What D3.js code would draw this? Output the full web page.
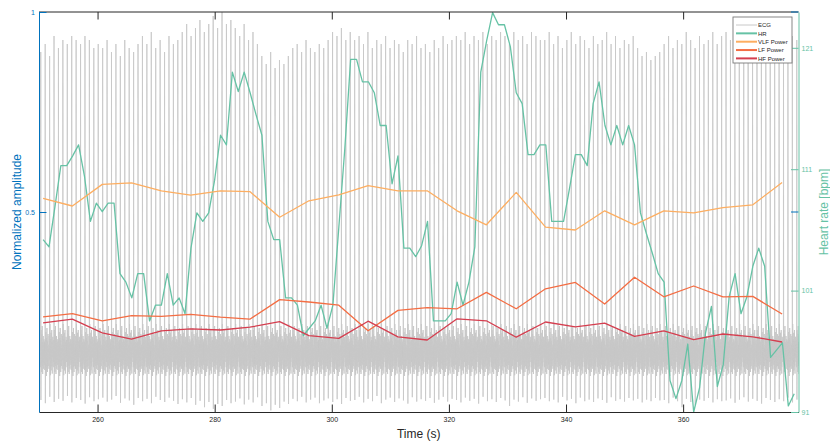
<!DOCTYPE html>
<html>
<head>
<meta charset="utf-8">
<script src="https://cdn.jsdelivr.net/npm/d3@7"></script>
<style>
  body { margin: 0; background: #fff; }
  svg { display: block; }
  text { font-family: "Liberation Sans", Arial, Helvetica, sans-serif; }
</style>
</head>
<body>
<svg id="chart" width="830" height="442"></svg>
<script>
// ---------- data ----------
// Heart rate (bpm), one sample per ~1.01 s starting at 250.7 s
const hrStart = 250.7;
const hrStep = 1.01;
const hrBpm = [
  105.2, 104.6, 107.9, 111.3, 111.3, 112.1, 113.0, 110.4, 106.7, 108.2,
  107.5, 108.2, 108.2, 102.4, 101.7, 100.4, 102.4, 102.4, 98.5, 99.8,
  99.8, 102.4, 99.8, 100.4, 99.1, 104.5, 107.4, 106.7, 107.4, 110.1,
  113.8, 113.0, 119.0, 117.4, 119.0, 117.3, 115.5, 113.8, 106.7, 105.2,
  105.2, 100.4, 100.4, 99.8, 97.3, 97.9, 98.5, 99.8, 97.9, 99.8,
  106.2, 112.6, 120.05, 120.05, 118.2, 118.2, 117.3, 114.6, 114.6, 109.8,
  112.1, 104.5, 104.5, 103.8, 104.7, 106.7, 98.5, 98.5, 98.5, 99.1,
  101.7, 99.8, 101.7, 104.6, 119.0, 121.6, 123.9, 122.9, 122.9, 121.1,
  117.3, 116.4, 112.2, 112.2, 113.0, 113.0, 106.7, 106.7, 106.7, 109.4,
  112.2, 112.2, 111.3, 116.4, 118.2, 114.6, 113.0, 114.6, 113.0, 114.6,
  113.0, 107.4, 105.7, 104.1, 102.4, 101.7, 93.6, 92.1, 93.6, 96.6,
  91.0, 93.0, 97.5, 99.7, 93.1, 94.9, 100.5, 102.4, 99.1, 100.5,
  103.0, 104.5, 103.0, 95.5, 96.1, 96.7, 91.5, 92.5
];

// Band powers (normalized), one value per ~5 s window
const powerTime = [
  250.7, 255.7, 260.8, 265.8, 270.9, 275.9, 281.0, 286.0, 291.1, 296.1,
  301.2, 306.2, 311.3, 316.3, 321.4, 326.4, 331.5, 336.5, 341.6, 346.6,
  351.7, 356.7, 361.8, 366.8, 371.9, 376.9
];
const vlfPower = [
  0.534, 0.515, 0.569, 0.573, 0.553, 0.542, 0.553, 0.551, 0.487, 0.528,
  0.543, 0.566, 0.553, 0.553, 0.503, 0.468, 0.549, 0.462, 0.455, 0.503,
  0.468, 0.503, 0.498, 0.511, 0.518, 0.574
];
const lfPower = [
  0.238, 0.246, 0.228, 0.241, 0.239, 0.244, 0.237, 0.232, 0.281, 0.275,
  0.267, 0.203, 0.254, 0.261, 0.258, 0.299, 0.258, 0.308, 0.324, 0.270,
  0.337, 0.288, 0.315, 0.288, 0.289, 0.245
];
const hfPower = [
  0.223, 0.232, 0.198, 0.182, 0.203, 0.208, 0.205, 0.212, 0.226, 0.191,
  0.184, 0.227, 0.188, 0.180, 0.233, 0.228, 0.187, 0.225, 0.213, 0.222,
  0.189, 0.203, 0.181, 0.195, 0.188, 0.175
];

// ECG: per-beat R-peak and S-trough levels (normalized), beats every ~0.755 s from 250.3 s
const ecgFirstBeat = 250.3;
const ecgBeatStep = 0.755;
const ecgPeak = [
  0.90, 0.92, 0.89, 0.94, 0.91,
  0.93, 0.92, 0.94, 0.93, 0.92, 0.94, 0.93, 0.91, 0.92,
  0.91, 0.93, 0.90, 0.92, 0.89, 0.93, 0.91, 0.90, 0.92,
  0.94, 0.92, 0.95, 0.91, 0.93, 0.90, 0.94, 0.92, 0.93,
  0.95, 0.97, 0.94, 0.96, 0.98, 0.95, 0.97, 0.99, 0.96, 1.00, 0.97, 0.98,
  0.96, 0.94, 0.97, 0.93, 0.95, 0.92,
  0.89, 0.87, 0.90, 0.86, 0.88, 0.87, 0.89,
  0.91, 0.92, 0.90, 0.93, 0.91, 0.90, 0.92, 0.91, 0.93,
  0.95, 0.94, 0.96, 0.93, 0.95,
  0.93, 0.94, 0.92, 0.95, 0.91, 0.93, 0.92, 0.94, 0.91, 0.93, 0.92, 0.90, 0.93, 0.92, 0.94, 0.91,
  0.92, 0.90, 0.93, 0.91, 0.94, 0.92, 0.93,
  0.94, 0.93, 0.95, 0.92, 0.94, 0.93, 0.95, 0.92, 0.94, 0.93, 0.95, 0.94, 0.92, 0.95, 0.93, 0.94, 0.92, 0.95, 0.94, 0.93,
  0.93, 0.95, 0.92, 0.94, 0.91, 0.93, 0.95, 0.92, 0.94, 0.93, 0.91, 0.94, 0.92, 0.93, 0.95, 0.92, 0.94, 0.91, 0.93, 0.92, 0.94, 0.91,
  0.89, 0.90, 0.88, 0.89, 0.90,
  0.92, 0.94, 0.91, 0.93, 0.92, 0.95, 0.93, 0.91, 0.94, 0.92, 0.93, 0.95, 0.92, 0.94,
  0.95, 0.93, 0.96, 0.94, 0.92, 0.95, 0.93, 0.96, 0.94, 0.95, 0.92, 0.96, 0.94, 0.93, 0.95, 0.94, 0.93
];
const ecgTrough = [
  0.030, 0.022, 0.038, 0.025, 0.033,
  0.028, 0.040, 0.024, 0.035, 0.030, 0.021, 0.037, 0.027, 0.032,
  0.036, 0.026, 0.031, 0.040, 0.023, 0.034, 0.029, 0.018, 0.035,
  0.027, 0.033, 0.022, 0.038, 0.030, 0.025, 0.036, 0.028, 0.020,
  0.032, 0.024, 0.035, 0.018, 0.028, 0.012, 0.025, 0.008, 0.020, 0.015, 0.030, 0.022,
  0.026, 0.034, 0.019, 0.031, 0.024, 0.037,
  0.015, 0.022, 0.004, 0.018, 0.010, 0.026, 0.020,
  0.033, 0.027, 0.038, 0.024, 0.031, 0.036, 0.022, 0.029, 0.034,
  0.025, 0.032, 0.020, 0.035, 0.028,
  0.030, 0.038, 0.024, 0.033, 0.027, 0.040, 0.022, 0.031, 0.036, 0.025, 0.034, 0.029, 0.021, 0.037, 0.026, 0.032,
  0.028, 0.035, 0.023, 0.031, 0.038, 0.026, 0.033,
  0.030, 0.024, 0.036, 0.028, 0.033, 0.021, 0.038, 0.027, 0.032, 0.025, 0.035, 0.029, 0.015, 0.031, 0.026, 0.037, 0.023, 0.034, 0.028, 0.032,
  0.035, 0.027, 0.031, 0.024, 0.038, 0.029, 0.033, 0.022, 0.036, 0.027, 0.031, 0.025, 0.034, 0.030, 0.023, 0.037, 0.028, 0.032, 0.026, 0.035, 0.029, 0.033,
  0.024, 0.031, 0.027, 0.035, 0.029,
  0.030, 0.022, 0.036, 0.027, 0.012, 0.033, 0.025, 0.018, 0.031, 0.028, 0.035, 0.024, 0.032, 0.027,
  0.029, 0.034, 0.023, 0.031, 0.037, 0.026, 0.033, 0.028, 0.021, 0.035, 0.030, 0.025, 0.032, 0.027, 0.036, 0.024, 0.031
];
// Beat waveforms: [phase within the RR interval, level]; "R" / "S" take the per-beat values.
// Three recorded shapes are used in turn so the noisy baseline does not repeat exactly.
const beatShapes = [
  [[0.00, 0.150], [0.04, 0.180], [0.08, 0.125], [0.12, 0.170], [0.16, 0.112], [0.20, 0.160],
   [0.22, "R"], [0.26, "S"], [0.30, 0.205], [0.34, 0.118], [0.38, 0.185], [0.42, 0.100],
   [0.46, 0.195], [0.50, 0.128], [0.54, 0.215], [0.58, 0.115], [0.62, 0.175], [0.66, 0.095],
   [0.70, 0.168], [0.74, 0.122], [0.78, 0.190], [0.82, 0.108], [0.86, 0.172], [0.90, 0.130],
   [0.94, 0.182], [1.00, 0.150]],
  [[0.00, 0.150], [0.04, 0.118], [0.08, 0.176], [0.12, 0.105], [0.16, 0.165], [0.20, 0.135],
   [0.22, "R"], [0.26, "S"], [0.30, 0.180], [0.34, 0.098], [0.38, 0.200], [0.42, 0.126],
   [0.46, 0.170], [0.50, 0.090], [0.54, 0.185], [0.58, 0.135], [0.62, 0.210], [0.66, 0.112],
   [0.70, 0.178], [0.74, 0.100], [0.78, 0.160], [0.82, 0.128], [0.86, 0.195], [0.90, 0.115],
   [0.94, 0.160], [1.00, 0.150]],
  [[0.00, 0.150], [0.04, 0.168], [0.08, 0.108], [0.12, 0.190], [0.16, 0.130], [0.20, 0.172],
   [0.22, "R"], [0.26, "S"], [0.30, 0.220], [0.34, 0.132], [0.38, 0.165], [0.42, 0.092],
   [0.46, 0.182], [0.50, 0.120], [0.54, 0.198], [0.58, 0.104], [0.62, 0.160], [0.66, 0.126],
   [0.70, 0.205], [0.74, 0.114], [0.78, 0.176], [0.82, 0.096], [0.86, 0.158], [0.90, 0.136],
   [0.94, 0.188], [1.00, 0.150]]
];

const xTicks = [260, 280, 300, 320, 340, 360];
const leftTicks = [0.5, 1];
const rightTicks = [91, 101, 111, 121];

const legendItems = [
  { name: "ECG", color: "#c8c8c8", width: 1 },
  { name: "HR", color: "#66c2a5", width: 2 },
  { name: "VLF Power", color: "#fdae61", width: 2 },
  { name: "LF Power", color: "#f46d43", width: 2 },
  { name: "HF Power", color: "#d53e4f", width: 2 }
];

// ---------- layout ----------
const W = 830, H = 442;
const plot = { left: 39, right: 798.5, top: 12, bottom: 412 };
const axisBlack = "#262626";
const leftColor = "#0072bd";
const hrColor = "#66c2a5";

const x = d3.scaleLinear().domain([250, 379.7]).range([plot.left, plot.right]);
const yL = d3.scaleLinear().domain([0, 1]).range([plot.bottom, plot.top]);
const yR = d3.scaleLinear().domain([91, 123.95]).range([plot.bottom, plot.top]);

const svg = d3.select("#chart");
svg.append("rect").attr("width", W).attr("height", H).attr("fill", "#fff");

svg.append("defs").append("clipPath").attr("id", "plotClip")
  .append("rect")
  .attr("x", plot.left).attr("y", plot.top - 1)
  .attr("width", plot.right - plot.left).attr("height", plot.bottom - plot.top + 2);

const layer = svg.append("g").attr("clip-path", "url(#plotClip)");

// ECG trace built beat by beat
const ecgPts = [];
ecgPeak.forEach((r, k) => {
  const tb = ecgFirstBeat + k * ecgBeatStep;
  const shape = beatShapes[k % beatShapes.length];
  shape.forEach(([ph, lv], j) => {
    if (k > 0 && j === 0) return;
    const t = tb + (ph - 0.22) * ecgBeatStep;
    const v = lv === "R" ? r : lv === "S" ? ecgTrough[k] : lv;
    ecgPts.push([t, v]);
  });
});
layer.append("path")
  .datum(ecgPts)
  .attr("fill", "none")
  .attr("stroke", "#c8c8c8")
  .attr("stroke-width", 0.85)
  .attr("d", d3.line().x(d => x(d[0])).y(d => yL(d[1])));

// HR line (right axis)
const hrData = hrBpm.map((v, i) => [hrStart + i * hrStep, v]);
layer.append("path")
  .datum(hrData)
  .attr("fill", "none")
  .attr("stroke", hrColor)
  .attr("stroke-width", 1.3)
  .attr("stroke-linejoin", "round")
  .attr("d", d3.line().x(d => x(d[0])).y(d => yR(d[1])));

// Power lines (left axis)
[[vlfPower, "#fdae61"], [lfPower, "#f46d43"], [hfPower, "#d53e4f"]].forEach(([vals, col]) => {
  layer.append("path")
    .datum(vals.map((v, i) => [powerTime[i], v]))
    .attr("fill", "none")
    .attr("stroke", col)
    .attr("stroke-width", 1.3)
    .attr("stroke-linejoin", "round")
    .attr("d", d3.line().x(d => x(d[0])).y(d => yL(d[1])));
});

// ---------- axes ----------
const tickLen = 7.5;
const fontTick = "7px";

svg.append("line").attr("x1", plot.left).attr("x2", plot.right)
  .attr("y1", plot.top).attr("y2", plot.top).attr("stroke", axisBlack).attr("stroke-width", 1);

const xAxis = svg.append("g")
  .attr("transform", `translate(0,${plot.bottom})`)
  .call(d3.axisBottom(x).tickValues(xTicks).tickSizeInner(-tickLen).tickSizeOuter(0).tickPadding(5));
xAxis.select(".domain").attr("stroke", axisBlack);
xAxis.selectAll(".tick line").attr("stroke", axisBlack);
xAxis.selectAll("text").attr("fill", axisBlack).style("font-size", fontTick).attr("font-family", null);

const xTop = svg.append("g")
  .attr("transform", `translate(0,${plot.top})`)
  .call(d3.axisTop(x).tickValues(xTicks).tickSizeInner(-tickLen).tickSizeOuter(0).tickFormat(""));
xTop.select(".domain").remove();
xTop.selectAll(".tick line").attr("stroke", axisBlack);

// left axis (normalized amplitude)
const yAxisL = svg.append("g")
  .attr("transform", `translate(${plot.left},0)`)
  .call(d3.axisLeft(yL).tickValues(leftTicks).tickSizeInner(-tickLen).tickSizeOuter(0).tickPadding(4).tickFormat(d3.format("")));
yAxisL.select(".domain").attr("stroke", leftColor);
yAxisL.selectAll(".tick line").attr("stroke", leftColor);
yAxisL.selectAll("text").attr("fill", leftColor).style("font-size", fontTick).attr("font-family", null);

// left ticks mirrored on the right edge
svg.append("g").selectAll("line").data(leftTicks).join("line")
  .attr("x1", plot.right - tickLen).attr("x2", plot.right)
  .attr("y1", d => yL(d)).attr("y2", d => yL(d))
  .attr("stroke", leftColor).attr("stroke-width", 1);

// right axis (heart rate)
const yAxisR = svg.append("g")
  .attr("transform", `translate(${plot.right},0)`)
  .call(d3.axisRight(yR).tickValues(rightTicks).tickSizeInner(-tickLen).tickSizeOuter(0).tickPadding(3));
yAxisR.select(".domain").attr("stroke", hrColor);
yAxisR.selectAll(".tick line").attr("stroke", hrColor);
yAxisR.selectAll("text").attr("fill", hrColor).style("font-size", fontTick).attr("font-family", null);

// axis titles
svg.append("text")
  .attr("x", (plot.left + plot.right) / 2).attr("y", 437.5)
  .attr("text-anchor", "middle").attr("fill", axisBlack)
  .style("font-size", "12px").text("Time (s)");

svg.append("text")
  .attr("transform", `translate(21,${(plot.top + plot.bottom) / 2}) rotate(-90)`)
  .attr("text-anchor", "middle").attr("fill", leftColor)
  .style("font-size", "12px").text("Normalized amplitude");

svg.append("text")
  .attr("transform", `translate(828,${(plot.top + plot.bottom) / 2}) rotate(-90)`)
  .attr("text-anchor", "middle").attr("fill", hrColor)
  .style("font-size", "12px").text("Heart rate [bpm]");

// ---------- legend ----------
const lg = svg.append("g").attr("transform", "translate(733,17)");
lg.append("rect").attr("width", 59).attr("height", 46)
  .attr("fill", "#fff").attr("stroke", "#7a7a7a").attr("stroke-width", 0.9);
legendItems.forEach((d, i) => {
  const yy = 8 + i * 8.35;
  lg.append("line").attr("x1", 3).attr("x2", 24).attr("y1", yy).attr("y2", yy)
    .attr("stroke", d.color).attr("stroke-width", d.width);
  lg.append("text").attr("x", 25).attr("y", yy + 2.2)
    .attr("fill", axisBlack).style("font-size", "6px").text(d.name);
});
</script>
</body>
</html>
